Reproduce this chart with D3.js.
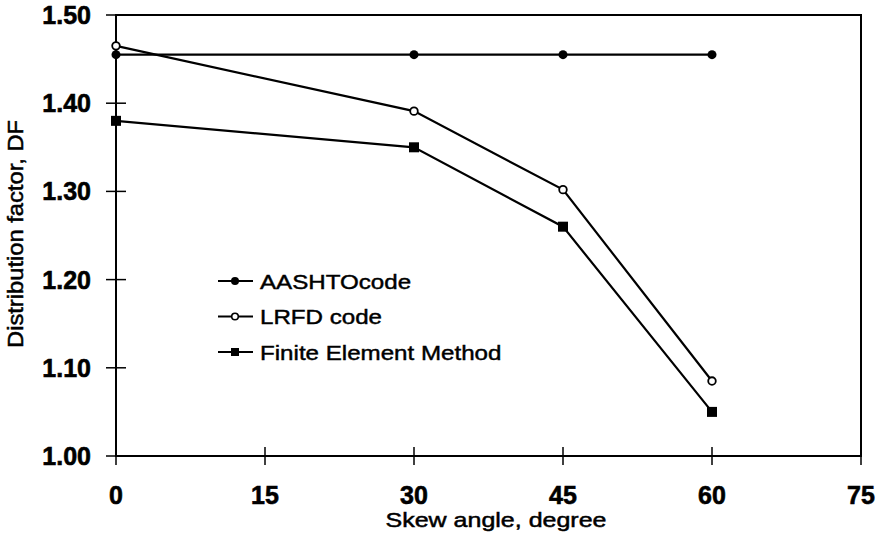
<!DOCTYPE html>
<html>
<head>
<meta charset="utf-8">
<script src="https://cdn.jsdelivr.net/npm/d3@7"></script>
<style>
  html, body { margin: 0; padding: 0; background: #fff; }
  svg { display: block; }
  text { font-family: "Liberation Sans", Arial, sans-serif; fill: #000; }
</style>
</head>
<body>
<svg id="chart" width="877" height="544"></svg>
<script>
const skewAngles = [0, 30, 45, 60];
const aashto = [1.455, 1.455, 1.455, 1.455];
const lrfd = [1.465, 1.391, 1.302, 1.085];
const fem = [1.38, 1.35, 1.26, 1.05];
const seriesNames = ["AASHTOcode", "LRFD code", "Finite Element Method"];
const xTicks = [0, 15, 30, 45, 60, 75];
const yTicks = [1.0, 1.1, 1.2, 1.3, 1.4, 1.5];
const xTitle = "Skew angle, degree";
const yTitle = "Distribution factor, DF";

const svg = d3.select("#chart");
const x = d3.scaleLinear().domain([0, 75]).range([116, 861]);
const y = d3.scaleLinear().domain([1.0, 1.5]).range([456, 15]);

// frame
svg.append("rect")
  .attr("x", x(0)).attr("y", y(1.5))
  .attr("width", x(75) - x(0)).attr("height", y(1.0) - y(1.5))
  .attr("fill", "none").attr("stroke", "#000").attr("stroke-width", 2);

// y ticks (crossing)
svg.selectAll(".ytick").data(yTicks).join("line")
  .attr("x1", x(0) - 10).attr("x2", x(0) + 10)
  .attr("y1", d => y(d)).attr("y2", d => y(d))
  .attr("stroke", "#000").attr("stroke-width", 1.5);
svg.selectAll(".ylab").data(yTicks).join("text")
  .attr("x", 91).attr("y", d => y(d))
  .attr("dy", "0.36em")
  .attr("text-anchor", "end")
  .attr("font-size", 25).attr("font-weight", "bold")
  .attr("stroke", "#000").attr("stroke-width", 0.6)
  .text(d => d3.format(".2f")(d));

// x ticks (crossing)
svg.selectAll(".xtick").data(xTicks).join("line")
  .attr("x1", d => x(d)).attr("x2", d => x(d))
  .attr("y1", y(1.0) - 9).attr("y2", y(1.0) + 9)
  .attr("stroke", "#000").attr("stroke-width", 1.5);
svg.selectAll(".xlab").data(xTicks).join("text")
  .attr("x", d => x(d)).attr("y", 504)
  .attr("text-anchor", "middle")
  .attr("font-size", 25).attr("font-weight", "bold")
  .attr("stroke", "#000").attr("stroke-width", 0.6)
  .text(d => d);

// axis titles
svg.append("text")
  .attr("x", 496).attr("y", 527)
  .attr("text-anchor", "middle")
  .attr("font-size", 21)
  .attr("stroke", "#000").attr("stroke-width", 0.5)
  .attr("textLength", 221).attr("lengthAdjust", "spacingAndGlyphs")
  .text(xTitle);
svg.append("text")
  .attr("transform", "translate(23,234) rotate(-90)")
  .attr("text-anchor", "middle")
  .attr("font-size", 22)
  .attr("stroke", "#000").attr("stroke-width", 0.5)
  .attr("textLength", 228).attr("lengthAdjust", "spacingAndGlyphs")
  .text(yTitle);

const line = d3.line().x(d => x(d[0])).y(d => y(d[1]));
const series = [aashto, lrfd, fem].map(vals => skewAngles.map((a, i) => [a, vals[i]]));

series.forEach(pts => {
  svg.append("path").datum(pts)
    .attr("d", line)
    .attr("fill", "none").attr("stroke", "#000").attr("stroke-width", 2.2);
});

// markers
svg.selectAll(".m0").data(series[0]).join("circle")
  .attr("cx", d => x(d[0])).attr("cy", d => y(d[1])).attr("r", 4.5)
  .attr("fill", "#000");
svg.selectAll(".m1").data(series[1]).join("circle")
  .attr("cx", d => x(d[0])).attr("cy", d => y(d[1])).attr("r", 3.8)
  .attr("fill", "#fff").attr("stroke", "#000").attr("stroke-width", 1.8);
svg.selectAll(".m2").data(series[2]).join("rect")
  .attr("x", d => x(d[0]) - 5).attr("y", d => y(d[1]) - 5)
  .attr("width", 10).attr("height", 10)
  .attr("fill", "#000");

// legend
const legY = [281, 316.5, 352];
const lg = svg.append("g");
seriesNames.forEach((name, i) => {
  lg.append("line")
    .attr("x1", 218).attr("x2", 253)
    .attr("y1", legY[i]).attr("y2", legY[i])
    .attr("stroke", "#000").attr("stroke-width", 2.2);
  if (i === 0) {
    lg.append("circle").attr("cx", 235).attr("cy", legY[i]).attr("r", 4).attr("fill", "#000");
  } else if (i === 1) {
    lg.append("circle").attr("cx", 235).attr("cy", legY[i]).attr("r", 3.3)
      .attr("fill", "#fff").attr("stroke", "#000").attr("stroke-width", 1.6);
  } else {
    lg.append("rect").attr("x", 231).attr("y", legY[i] - 4).attr("width", 8).attr("height", 8).attr("fill", "#000");
  }
  lg.append("text")
    .attr("transform", `translate(260,${legY[i] + 7.5}) scale(1.15,1)`)
    .attr("font-size", 21)
    .attr("stroke", "#000").attr("stroke-width", 0.45)
    .text(name);
});
</script>
</body>
</html>
